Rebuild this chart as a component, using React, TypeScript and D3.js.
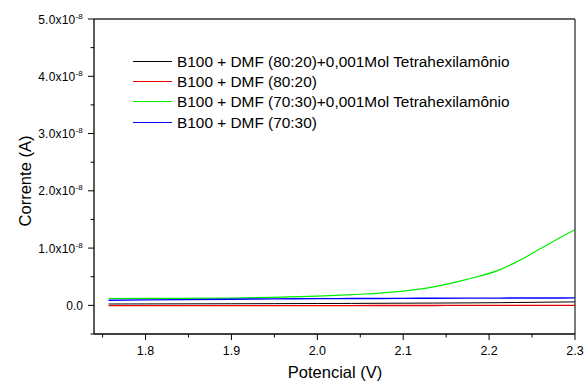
import React from "react";
import * as d3 from "d3";

const W = 584;
const H = 383;
const M = { left: 94, right: 575, top: 19, bottom: 334 };

const seriesNames = [
  "B100 + DMF (80:20)+0,001Mol Tetrahexilamônio",
  "B100 + DMF (80:20)",
  "B100 + DMF (70:30)+0,001Mol Tetrahexilamônio",
  "B100 + DMF (70:30)",
];
const seriesColors = ["#000000", "#ee0000", "#00ee00", "#0000ff"];
const seriesWidths = [1, 1.3, 1.2, 1.4];

// Potential (V)
const potential = [1.757, 1.8, 1.9, 1.95, 2.0, 2.04, 2.1, 2.134, 2.173, 2.212, 2.231, 2.251, 2.27, 2.3];
// Current (units of 1e-8 A)
const black = [0.024, 0.025, 0.028, 0.03, 0.032, 0.034, 0.038, 0.04, 0.043, 0.047, 0.05, 0.053, 0.056, 0.06];
const red = [-0.005, -0.005, -0.004, -0.004, -0.003, -0.003, -0.002, -0.002, -0.001, -0.001, 0.0, 0.0, 0.0, 0.0];
const green = [0.12, 0.122, 0.128, 0.14, 0.16, 0.187, 0.25, 0.32, 0.45, 0.62, 0.75, 0.914, 1.077, 1.32];
const blue = [0.09, 0.095, 0.108, 0.113, 0.117, 0.119, 0.122, 0.124, 0.126, 0.127, 0.128, 0.129, 0.129, 0.13];
const allSeries = [black, red, green, blue];

const xMajor = [1.8, 1.9, 2.0, 2.1, 2.2, 2.3];
const xMinor = [1.75, 1.85, 1.95, 2.05, 2.15, 2.25];
const yMajor = [0, 1, 2, 3, 4, 5];
const yMinor = [-0.5, 0.5, 1.5, 2.5, 3.5, 4.5];
const yMantissa = ["0.0", "1.0", "2.0", "3.0", "4.0", "5.0"];

const FONT = "'Liberation Sans', Arial, sans-serif";

export default function App() {
  const x = d3.scaleLinear().domain([1.74, 2.3]).range([M.left, M.right]);
  const y = d3.scaleLinear().domain([-0.5, 5]).range([M.bottom, M.top]);
  const line = d3
    .line<number>()
    .x((_, i) => x(potential[i]))
    .y((d) => y(d))
    .curve(d3.curveMonotoneX);

  const legendY = [61.5, 81.5, 101.5, 122.5];

  return (
    <svg
      width={W}
      height={H}
      style={{ position: "absolute", left: 0, top: 0, background: "#fff" }}
      fontFamily={FONT}
    >
      <rect x={0} y={0} width={W} height={H} fill="#fff" />
      {allSeries.map((s, i) => (
        <path key={i} d={line(s) || ""} fill="none" stroke={seriesColors[i]} strokeWidth={seriesWidths[i]} />
      ))}
      {/* frame */}
      <line x1={M.left} x2={M.right} y1={M.top} y2={M.top} stroke="#333" strokeWidth={1.3} />
      <line x1={M.right} x2={M.right} y1={M.top} y2={M.bottom} stroke="#333" strokeWidth={1.3} />
      <line x1={M.left} x2={M.right} y1={M.bottom} y2={M.bottom} stroke="#000" strokeWidth={1.3} />
      <line x1={M.left} x2={M.left} y1={M.top} y2={M.bottom} stroke="#000" strokeWidth={1.3} />
      {/* x ticks */}
      {xMajor.map((v) => (
        <g key={"xm" + v}>
          <line x1={x(v)} x2={x(v)} y1={M.bottom} y2={M.bottom + 6} stroke="#000" />
          <text x={x(v)} y={355} fontSize={12.5} textAnchor="middle" fill="#000">
            {v.toFixed(1)}
          </text>
        </g>
      ))}
      {xMinor.map((v) => (
        <line key={"xn" + v} x1={x(v)} x2={x(v)} y1={M.bottom} y2={M.bottom + 3.5} stroke="#000" />
      ))}
      {/* y ticks */}
      {yMajor.map((v, i) => (
        <g key={"ym" + v}>
          <line x1={M.left - 6} x2={M.left} y1={y(v)} y2={y(v)} stroke="#000" />
          {v === 0 ? (
            <text x={83} y={y(v) + 4.5} fontSize={12} textAnchor="end" fill="#000">
              0.0
            </text>
          ) : (
            <text x={83} y={y(v) + 4.5} fontSize={12} textAnchor="end" fill="#000" letterSpacing={0.2}>
              {yMantissa[i] + "x10"}
              <tspan fontSize={8} dy={-5}>
                -8
              </tspan>
            </text>
          )}
        </g>
      ))}
      {yMinor.map((v) => (
        <line key={"yn" + v} x1={M.left - 3.5} x2={M.left} y1={y(v)} y2={y(v)} stroke="#000" />
      ))}
      {/* axis titles */}
      <text x={335} y={378} fontSize={16.5} textAnchor="middle" fill="#000">
        Potencial (V)
      </text>
      <text
        transform={`translate(31, 181) rotate(-90)`}
        fontSize={16.5}
        textAnchor="middle"
        fill="#000"
      >
        Corrente (A)
      </text>
      {/* legend */}
      {seriesNames.map((n, i) => (
        <g key={n}>
          <line x1={133} x2={172} y1={legendY[i]} y2={legendY[i]} stroke={seriesColors[i]} strokeWidth={1} />
          <text x={177} y={legendY[i] + 5.5} fontSize={15.4} fill="#000">
            {n}
          </text>
        </g>
      ))}
    </svg>
  );
}
